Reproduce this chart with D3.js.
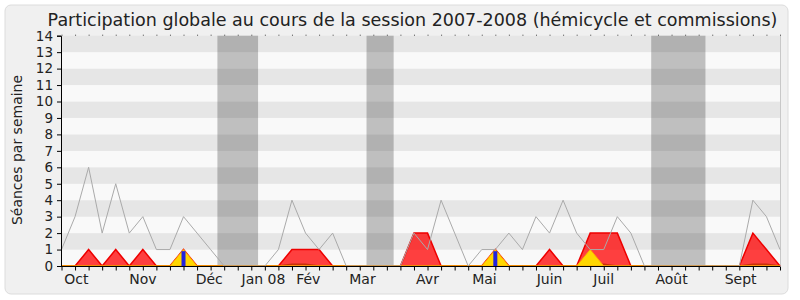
<!DOCTYPE html>
<html>
<head>
<meta charset="utf-8">
<script src="https://cdn.jsdelivr.net/npm/d3@7"></script>
<style>
    body { margin: 0; background: #fff; }
    text { font-family: 'DejaVu Sans', sans-serif; fill: #222; }
</style>
</head>
<body>
<script>
// séances par semaine, semaine 0 = début octobre 2007
var red = [0,0,1,0,1,0,1,0,0,1, 0,0,0,0,0,0,0,1,1,1, 0,0,0,0,0,0,2,2,0,0,
           0,0,1,0,0,0,1,0,0,2, 2,2,0,0,0,0,0,0,0,0, 0,2,1,0]
var yellow = [0,0,0,0,0,0,0,0,0,1, 0,0,0,0,0,0,0,0,0,0, 0,0,0,0,0,0,0,0,0,0,
              0,0,1,0,0,0,0,0,0,1, 0,0,0,0,0,0,0,0,0,0, 0,0,0,0]
var blue = [0,0,0,0,0,0,0,0,0,0.9, 0,0,0,0,0,0,0,0,0,0, 0,0,0,0,0,0,0,0,0,0,
            0,0,0.9,0,0,0,0,0,0,0, 0,0,0,0,0,0,0,0,0,0, 0,0,0,0]
var green = [0,0,0,0,0,0,0,0,0,0.1, 0,0,0,0,0,0,0,0.1,0.1,0, 0,0,0,0,0,0,0,0,0,0,
             0,0,0.1,0,0,0,0,0,0,0.1, 0.1,0,0,0,0,0,0,0,0,0, 0,0.1,0.1,0]
var median = [1,3,6,2,5,2,3,1,1,3, 2,1,0,0,0,0,1,4,2,1, 2,0,0,0,0,0,2,1,4,2,
              0,1,1,2,1,3,2,4,2,1, 1,3,2,0,0,0,0,0,0,0, 0,4,3,1]

// vacances parlementaires (en semaines)
var vacStart = [11.5, 22.5, 43.5]
var vacEnd = [14.5, 24.5, 47.5]

var monthLabels = ['Oct', 'Nov', 'Déc', 'Jan 08', 'Fév', 'Mar', 'Avr', 'Mai', 'Juin', 'Juil', 'Août', 'Sept']
var monthWeeks = [1.1, 6, 10.9, 14.9, 18.2, 22.2, 27, 31.2, 36, 40, 45, 50.1]

var _width = 800
var _height = 300

var svg = d3.select('body')
    .append('svg')
    .attr('width', _width)
    .attr('height', _height)

svg.append('rect')
    .attr('x', 5).attr('y', 5)
    .attr('width', 783).attr('height', 289)
    .attr('rx', 6)
    .attr('fill', '#f0f0f0')
    .attr('stroke', '#dcdcdc')

var x = d3.scaleLinear().domain([0, red.length - 1]).range([61.5, 780])
var y = d3.scaleLinear().domain([0, 14]).range([266, 35.7])

var plot = svg.append('g').attr('class', 'plot')

// bandes horizontales
plot.selectAll('rect.row')
    .data(d3.range(14))
    .enter()
    .append('rect')
    .attr('class', 'row')
    .attr('x', x(0))
    .attr('width', x(red.length - 1) - x(0))
    .attr('y', d => y(d + 1))
    .attr('height', d => y(d) - y(d + 1))
    .attr('fill', d => d % 2 ? '#e6e6e6' : '#f9f9f9')

plot.append('line')
    .attr('x1', x(red.length - 1) + 0.5).attr('x2', x(red.length - 1) + 0.5)
    .attr('y1', y(14)).attr('y2', y(0))
    .attr('stroke', '#c8c8c8')

// vacances
plot.selectAll('rect.vac')
    .data(vacStart)
    .enter()
    .append('rect')
    .attr('class', 'vac')
    .attr('x', d => x(d))
    .attr('width', (d, i) => x(vacEnd[i]) - x(d))
    .attr('y', y(14))
    .attr('height', y(0) - y(14))
    .attr('fill', '#1b1b1b')
    .attr('fill-opacity', 0.26)

var area = function(values) {
    return d3.area()
        .x((d, i) => x(i))
        .y0(y(0))
        .y1(d => y(d))(values)
}
var line = function(values) {
    return d3.line()
        .x((d, i) => x(i))
        .y(d => y(d))(values)
}

plot.append('path')
    .attr('d', line(green))
    .attr('fill', 'none')
    .attr('stroke', '#22bb22')
    .attr('stroke-width', 1.5)

plot.append('path')
    .attr('d', area(red))
    .attr('fill', '#ff0000')
    .attr('fill-opacity', 0.75)
plot.append('path')
    .attr('d', line(red))
    .attr('fill', 'none')
    .attr('stroke', '#ee0000')
    .attr('stroke-width', 1.5)

plot.append('path')
    .attr('d', area(yellow))
    .attr('fill', '#ffd700')
    .attr('stroke', '#ffaa00')
    .attr('stroke-width', 1)

// questions
plot.selectAll('rect.bar')
    .data(blue.map((v, i) => ({i: i, v: v})).filter(d => d.v > 0))
    .enter()
    .append('rect')
    .attr('class', 'bar')
    .attr('x', d => x(d.i) - 2)
    .attr('width', 4)
    .attr('y', d => y(d.v))
    .attr('height', d => y(0) - y(d.v))
    .attr('fill', '#2222dd')

plot.append('path')
    .attr('d', line(median))
    .attr('fill', 'none')
    .attr('stroke', '#aaaaaa')
    .attr('stroke-width', 1)

// axes
var yAxis = d3.axisLeft(y)
    .ticks(14)
    .tickSize(4)
    .tickFormat(d3.format('d'))
var yG = svg.append('g')
    .attr('transform', 'translate(' + (x(0) - 0.5) + ',0)')
    .call(yAxis)
yG.select('.domain').attr('stroke', '#000')
yG.selectAll('.tick line').attr('stroke', '#000')
yG.selectAll('.tick text')
    .attr('x', -8)
    .attr('font-size', 13.5)
    .attr('font-family', "'DejaVu Sans', sans-serif")
    .attr('fill', '#222')

var xAxis = d3.axisBottom(x)
    .tickValues(d3.range(red.length))
    .tickSize(4)
    .tickFormat('')
var xG = svg.append('g')
    .attr('transform', 'translate(0,' + (y(0) + 0.5) + ')')
    .call(xAxis)
xG.select('.domain').attr('stroke', '#000').attr('d', 'M' + (x(0) - 0.5) + ',0H' + x(red.length - 1))
xG.selectAll('.tick line').attr('stroke', '#000')

// pointillés du haut
svg.append('g').selectAll('rect.dot')
    .data(d3.range(red.length))
    .enter()
    .append('rect')
    .attr('class', 'dot')
    .attr('x', d => x(d))
    .attr('y', y(14) - 1)
    .attr('width', 1)
    .attr('height', 1)
    .attr('fill', '#444')

svg.append('g').selectAll('text.month')
    .data(monthLabels)
    .enter()
    .append('text')
    .attr('class', 'month')
    .attr('x', (d, i) => x(monthWeeks[i]))
    .attr('y', 284)
    .attr('text-anchor', 'middle')
    .attr('font-size', 14)
    .text(d => d)

svg.append('text')
    .attr('transform', 'translate(22,150) rotate(-90)')
    .attr('text-anchor', 'middle')
    .attr('font-size', 14)
    .text('Séances par semaine')

svg.append('text')
    .attr('x', 412.5)
    .attr('y', 26)
    .attr('text-anchor', 'middle')
    .attr('font-size', 17.5)
    .text('Participation globale au cours de la session 2007-2008 (hémicycle et commissions)')
</script>
</body>
</html>
